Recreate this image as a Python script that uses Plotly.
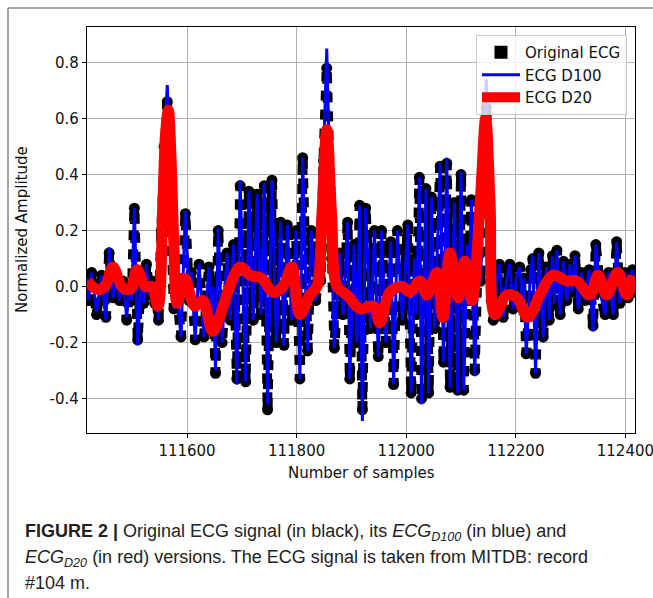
import plotly.graph_objects as go

# ---- data ----
ext_samples = [111418, 111420, 111426, 111435, 111444, 111452, 111458, 111465, 111471, 111477,
               111483, 111490, 111495, 111499, 111504, 111510, 111516, 111521, 111526, 111531,
               111536, 111541, 111544, 111548, 111553, 111558, 111564, 111570, 111576, 111581,
               111589, 111597, 111604, 111608, 111615, 111622, 111631, 111640, 111645, 111648,
               111652, 111657, 111664, 111673, 111679, 111685, 111691, 111697, 111707, 111713,
               111721, 111728, 111735, 111741, 111747, 111755, 111763, 111771, 111777, 111783,
               111791, 111799, 111806, 111811, 111820, 111827, 111835, 111841, 111844, 111849,
               111855, 111861, 111864, 111869, 111878, 111885, 111893, 111897, 111905, 111910,
               111915, 111920, 111926, 111935, 111942, 111949, 111955, 111963, 111972, 111977,
               111984, 111993, 112003, 112009, 112015, 112019, 112024, 112028, 112036, 112041,
               112046, 112052, 112062, 112068, 112074, 112080, 112088, 112094, 112100, 112105,
               112111, 112114, 112119, 112125, 112131, 112136, 112141, 112146, 112151, 112155,
               112159, 112164, 112170, 112177, 112183, 112189, 112195, 112201, 112207, 112212,
               112215, 112219, 112227, 112231, 112236, 112242, 112250, 112256, 112261, 112267,
               112271, 112275, 112281, 112287, 112293, 112299, 112303, 112308, 112314, 112320,
               112326, 112334, 112341, 112346, 112354, 112363, 112369, 112378, 112384, 112390,
               112399, 112405, 112413, 112418]

ecg_original = [0.03, -0.05, 0.05, -0.10, 0.04, -0.11, 0.12, -0.04, 0.03, -0.05,
                0.02, -0.12, 0.00, -0.05, 0.28, -0.19, 0.04, -0.06, 0.08, -0.03,
                0.02, -0.06, -0.03, -0.12, 0.20, 0.50, 0.66, 0.30, -0.08, 0.00,
                -0.18, 0.26, -0.05, 0.05, -0.19, 0.08, -0.18, 0.07, -0.10, 0.00,
                -0.31, 0.20, -0.20, 0.12, -0.12, 0.15, -0.33, 0.36, -0.34, 0.34,
                -0.12, 0.33, -0.10, 0.36, -0.44, 0.38, -0.20, 0.23, -0.21, 0.22,
                -0.12, 0.20, -0.33, 0.46, -0.23, 0.20, -0.05, 0.10, 0.02, 0.45,
                0.78, 0.35, 0.10, -0.22, 0.12, -0.10, 0.23, -0.33, 0.15, -0.20,
                0.29, -0.44, 0.28, -0.15, 0.20, -0.25, 0.20, -0.20, 0.16, -0.35,
                0.20, -0.12, 0.22, -0.38, 0.10, -0.10, 0.39, -0.40, 0.35, -0.38,
                0.32, -0.15, 0.43, -0.27, 0.44, -0.36, 0.30, -0.37, 0.40, -0.37,
                0.15, -0.05, 0.31, -0.30, 0.15, 0.02, 0.40, 0.64, 0.35, -0.05,
                -0.12, 0.00, 0.08, -0.11, 0.02, 0.08, -0.08, 0.03, 0.07, -0.05,
                0.03, -0.24, 0.06, 0.10, -0.31, 0.12, -0.18, 0.07, -0.12, 0.11,
                -0.06, 0.13, -0.10, 0.09, -0.05, 0.08, -0.02, 0.11, -0.08, 0.05,
                -0.05, 0.06, -0.14, 0.15, -0.02, -0.10, 0.05, -0.10, 0.16, -0.06,
                0.05, -0.04, 0.06, -0.02]

ecg_d100 = [0.03, -0.05, 0.05, -0.09, 0.04, -0.12, 0.14, -0.04, 0.03, -0.05,
            0.02, -0.11, 0.00, -0.05, 0.28, -0.21, 0.04, -0.06, 0.08, -0.03,
            0.02, -0.06, -0.03, -0.12, 0.20, 0.50, 0.72, 0.30, -0.08, 0.00,
            -0.18, 0.27, -0.05, 0.05, -0.19, 0.08, -0.18, 0.07, -0.10, 0.00,
            -0.30, 0.21, -0.20, 0.12, -0.12, 0.15, -0.35, 0.38, -0.34, 0.34,
            -0.12, 0.33, -0.10, 0.37, -0.42, 0.38, -0.20, 0.23, -0.21, 0.22,
            -0.12, 0.20, -0.33, 0.46, -0.23, 0.20, -0.05, 0.10, 0.02, 0.45,
            0.85, 0.35, 0.10, -0.22, 0.12, -0.10, 0.23, -0.33, 0.15, -0.20,
            0.29, -0.48, 0.28, -0.15, 0.20, -0.25, 0.20, -0.20, 0.16, -0.35,
            0.20, -0.12, 0.22, -0.38, 0.10, -0.10, 0.39, -0.42, 0.35, -0.38,
            0.32, -0.15, 0.44, -0.27, 0.46, -0.36, 0.30, -0.38, 0.41, -0.37,
            0.15, -0.05, 0.31, -0.32, 0.15, 0.02, 0.40, 0.74, 0.35, -0.05,
            -0.12, 0.00, 0.08, -0.11, 0.02, 0.08, -0.08, 0.03, 0.07, -0.05,
            0.03, -0.24, 0.06, 0.11, -0.31, 0.12, -0.18, 0.07, -0.12, 0.11,
            -0.06, 0.13, -0.10, 0.09, -0.05, 0.08, -0.02, 0.11, -0.08, 0.05,
            -0.05, 0.06, -0.16, 0.15, -0.02, -0.10, 0.05, -0.10, 0.16, -0.06,
            0.05, -0.04, 0.06, -0.02]

d20_samples = [111418, 111436, 111450, 111465, 111481, 111496, 111509, 111524, 111536, 111547,
               111556, 111561, 111566, 111571, 111576, 111582, 111596, 111614, 111629, 111647,
               111666, 111678, 111697, 111715, 111736, 111757, 111775, 111791, 111806, 111824,
               111837, 111846, 111855, 111864, 111874, 111892, 111916, 111940, 111952, 111970,
               111992, 112007, 112025, 112038, 112056, 112067, 112080, 112095, 112107, 112120,
               112135, 112145, 112153, 112162, 112184, 112202, 112222, 112244, 112268, 112293,
               112311, 112335, 112350, 112366, 112386, 112403, 112414]

ecg_d20 = [0.02, -0.01, 0.00, 0.07, 0.00, -0.01, 0.06, 0.00, 0.00, -0.07,
           0.30, 0.55, 0.63, 0.45, 0.15, -0.06, 0.03, -0.07, -0.05, -0.16,
           -0.07, 0.00, 0.07, 0.04, 0.03, -0.02, 0.00, 0.07, -0.10, -0.03,
           0.00, 0.25, 0.56, 0.25, 0.00, -0.03, -0.08, -0.07, -0.13, -0.02,
           0.00, -0.02, 0.02, -0.03, 0.05, -0.11, 0.12, -0.04, 0.09, -0.05,
           0.30, 0.60, 0.30, -0.10, -0.03, -0.04, -0.11, -0.03, 0.04, 0.02,
           0.02, -0.03, 0.04, -0.03, 0.05, -0.03, 0.04]

x_ticks = [111600, 111800, 112000, 112200, 112400]
x_tick_labels = ["111600", "111800", "112000", "112200", "112400"]
y_ticks = [-0.4, -0.2, 0.0, 0.2, 0.4, 0.6, 0.8]
y_tick_labels = ["-0.4", "-0.2", "0.0", "0.2", "0.4", "0.6", "0.8"]
x_range = [111417.5, 112417.5]
y_range = [-0.523, 0.927]

# ---- figure ----
W, H = 653, 598
L, R, T, B = 87, 18, 27, 165
pw, ph = W - L - R, H - T - B


def px_x(x):
    return (x - L) / pw


def px_y(y):
    return (H - B - y) / ph


tick_font = dict(family="DejaVu Sans", size=15, color="#111")

fig = go.Figure()
fig.add_trace(go.Scatter(
    x=ext_samples, y=ecg_original, mode="lines+markers", showlegend=False,
    line=dict(color="black", width=10, dash="10px,9px"),
    marker=dict(symbol="circle", size=11, color="black"),
    hoverinfo="skip"))
fig.add_trace(go.Scatter(
    x=[None], y=[None], mode="markers", name="Original ECG",
    marker=dict(symbol="square", size=13, color="black")))
fig.add_trace(go.Scatter(
    x=ext_samples, y=ecg_d100, mode="lines", name="ECG D100",
    line=dict(color="#0000ff", width=3)))
fig.add_trace(go.Scatter(
    x=d20_samples, y=ecg_d20, mode="lines", name="ECG D20",
    line=dict(color="#ff0000", width=11, shape="spline", smoothing=1.0)))

axis_common = dict(showgrid=True, gridcolor="#b0b0b0", gridwidth=1,
                   showline=True, linecolor="black", linewidth=1.2, mirror=True,
                   ticks="outside", ticklen=4, tickcolor="black", tickfont=tick_font,
                   zeroline=False, ticklabeloverflow="allow", automargin=False)

fig.update_xaxes(range=x_range, tickvals=x_ticks, ticktext=x_tick_labels, **axis_common)
fig.update_yaxes(range=y_range, tickvals=y_ticks, ticktext=y_tick_labels, **axis_common)

ann = [
    dict(text="Normalized Amplitude", x=px_x(22), y=0.5, xref="paper", yref="paper",
         textangle=-90, showarrow=False, font=tick_font, xanchor="center", yanchor="middle"),
    dict(text="Number of samples", x=0.5, y=px_y(473), xref="paper", yref="paper",
         showarrow=False, font=tick_font, xanchor="center", yanchor="middle"),
]
cap_font = dict(family="Liberation Sans", size=18, color="#222")
cap_lines = [
    "<b>FIGURE 2 |</b> Original ECG signal (in black), its <i>ECG<sub>D100</sub></i> (in blue) and",
    "<i>ECG<sub>D20</sub></i> (in red) versions. The ECG signal is taken from MITDB: record",
    "#104 m.",
]
for txt, yy in zip(cap_lines, [532, 558, 583]):
    ann.append(dict(text=txt, x=px_x(23), y=px_y(yy), xref="paper", yref="paper",
                    showarrow=False, font=cap_font, xanchor="left", yanchor="middle",
                    align="left"))

shapes = [
    dict(type="line", xref="paper", yref="paper", x0=px_x(8), x1=px_x(W + 5),
         y0=px_y(8), y1=px_y(8), line=dict(color="#888", width=1.5)),
    dict(type="line", xref="paper", yref="paper", x0=px_x(8), x1=px_x(8),
         y0=px_y(8), y1=px_y(H + 5), line=dict(color="#888", width=1.5)),
]

fig.update_layout(
    width=W, height=H, margin=dict(l=L, r=R, t=T, b=B, autoexpand=False),
    paper_bgcolor="white", plot_bgcolor="white",
    annotations=ann, shapes=shapes,
    legend=dict(x=px_x(627), y=px_y(35), xanchor="right", yanchor="top",
                bgcolor="rgba(255,255,255,0.8)", bordercolor="#cccccc", borderwidth=1,
                itemwidth=38,
                font=dict(family="DejaVu Sans", size=15, color="#111")),
    showlegend=True,
)

fig.write_html("out.html")
